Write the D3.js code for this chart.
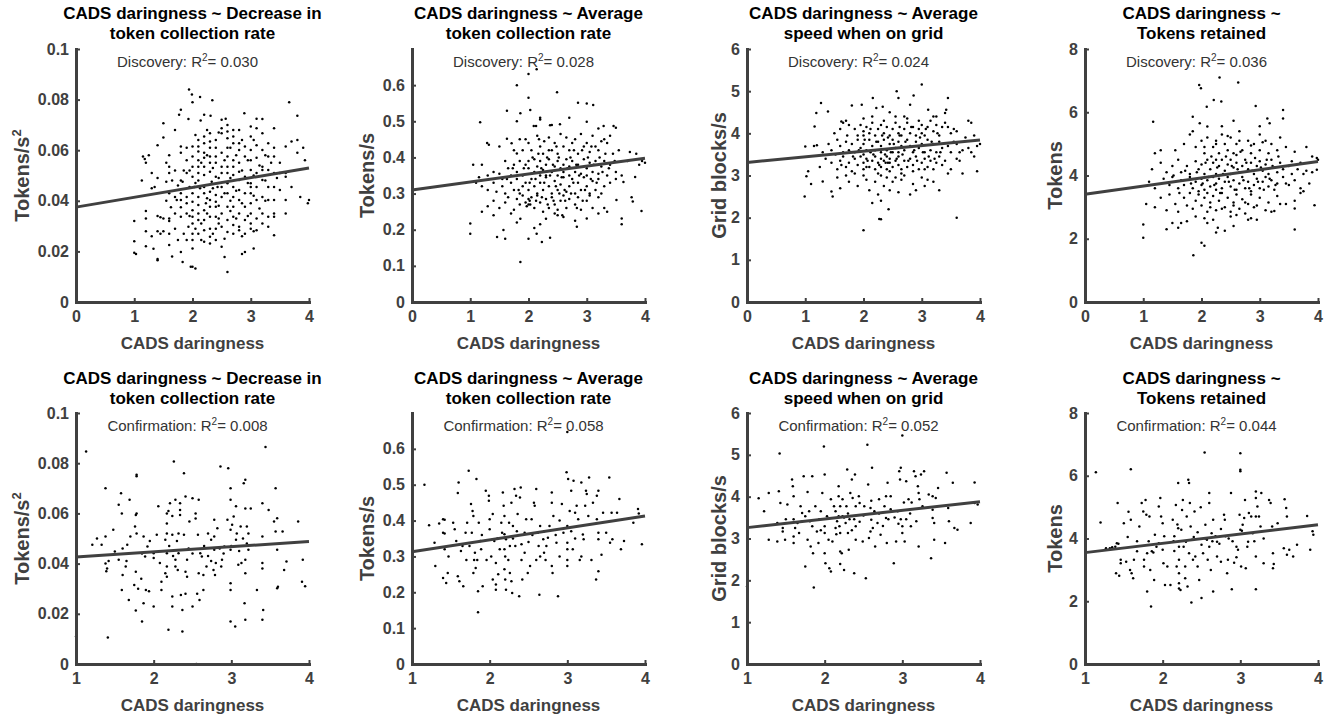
<!DOCTYPE html>
<html>
<head>
<meta charset="utf-8">
<script src="https://cdn.jsdelivr.net/npm/d3@7"></script>
<style>
  body { margin: 0; background: #fff; }
  svg { font-family: "Liberation Sans", Arial, Helvetica, sans-serif; }
  .axis path.domain { stroke: #404040; stroke-width: 3; stroke-linecap: square; }
  .axis .tick line { stroke: #404040; stroke-width: 2; }
  .axis text { fill: #404040; font-size: 16px; font-weight: bold; font-family: "Liberation Sans", Arial, sans-serif; }
  .title { font-size: 17px; font-weight: bold; fill: #000; }
  .xlabel { font-size: 17px; font-weight: bold; fill: #404040; }
  .ylabel { font-size: 20px; font-weight: bold; fill: #404040; }
  .note { font-size: 15px; fill: #333; }
</style>
</head>
<body>
<div id="chart"></div>
<script>
// ---- data: [CADS daringness, outcome] ----
const discDecrease = [
  [1.0,.032],[1.0,.024],[1.0,.0195],[1.03,.019],
  [1.13,.048],[1.15,.0575],[1.18,.0565],[1.2,.055],[1.2,.036],[1.2,.033],[1.2,.028],[1.2,.022],[1.25,.058],
  [1.3,.051],[1.3,.045],[1.35,.0455],[1.3,.026],[1.33,.021],
  [1.4,.062],[1.4,.049],[1.4,.034],[1.45,.0335],[1.4,.028],[1.45,.027],[1.4,.017],[1.4,.0165],
  [1.5,.0707],[1.5,.065],[1.55,.055],[1.5,.033],[1.55,.0475],[1.5,.028],
  [1.6,.058],[1.6,.0535],[1.6,.051],[1.6,.043],[1.63,.0375],[1.6,.033],[1.6,.032],[1.6,.027],[1.6,.0225],[1.65,.018],
  [1.7,.068],[1.7,.052],[1.7,.0415],[1.73,.0403],[1.7,.035],[1.7,.029],[1.75,.0245],
  [1.8,.076],[1.77,.074],[1.8,.0615],[1.8,.059],[1.8,.048],[1.83,.0475],[1.8,.043],[1.8,.0403],[1.8,.0375],[1.8,.0337],[1.85,.027],[1.8,.0198],[1.83,.0158],
  [1.94,.084],[1.93,.0723],[1.9,.061],[1.9,.056],[1.9,.051],[1.95,.0455],[1.9,.0415],[1.9,.039],[1.9,.035],[1.93,.0297],[1.9,.0245],[1.97,.0139],
  [1.99,.082],[2.0,.079],[2.0,.0615],[2.0,.0575],[2.0,.0535],[2.0,.0495],[2.03,.0455],[2.0,.043],[2.0,.0396],[2.0,.0363],[2.0,.0337],[2.0,.031],[2.0,.027],[2.0,.0245],[2.0,.0211],[2.0,.0139],[2.05,.0132],
  [2.13,.081],[2.14,.0717],[2.1,.064],[2.1,.0615],[2.1,.0595],[2.1,.056],[2.1,.0535],[2.1,.051],[2.1,.048],[2.13,.045],[2.1,.0415],[2.1,.0383],[2.1,.035],[2.1,.0324],[2.1,.027],[2.15,.0245],
  [2.2,.074],[2.2,.0654],[2.2,.0627],[2.2,.059],[2.2,.057],[2.2,.0535],[2.2,.0502],[2.2,.0455],[2.2,.043],[2.23,.039],[2.2,.0363],[2.2,.0324],[2.2,.0284],[2.2,.0238],
  [2.34,.0797],[2.31,.0736],[2.3,.0667],[2.3,.0634],[2.3,.061],[2.3,.0575],[2.3,.055],[2.3,.0515],[2.33,.0475],[2.3,.0436],[2.3,.0403],[2.3,.0376],[2.3,.0337],[2.3,.029],[2.3,.0258],[2.3,.0231],
  [2.4,.064],[2.4,.061],[2.4,.0575],[2.4,.055],[2.4,.0495],[2.43,.0455],[2.4,.0423],[2.4,.0396],[2.4,.0376],[2.4,.0337],[2.45,.033],[2.4,.029],[2.4,.0245],
  [2.5,.072],[2.5,.0687],[2.5,.0667],[2.5,.059],[2.5,.0535],[2.5,.051],[2.5,.0455],[2.5,.0415],[2.5,.035],[2.5,.0297],[2.5,.0218],[2.55,.0178],
  [2.57,.0724],[2.6,.07],[2.6,.0674],[2.6,.0647],[2.6,.061],[2.6,.0575],[2.6,.0535],[2.6,.051],[2.6,.0469],[2.6,.043],[2.6,.0376],[2.6,.0324],[2.6,.0277],[2.6,.0119],
  [2.7,.068],[2.7,.0654],[2.7,.0627],[2.7,.056],[2.7,.0535],[2.7,.0502],[2.7,.0455],[2.7,.0415],[2.7,.0376],[2.7,.0337],[2.7,.0304],[2.7,.027],
  [2.8,.068],[2.8,.0627],[2.8,.0601],[2.8,.055],[2.8,.0515],[2.8,.0482],[2.8,.0443],[2.8,.0403],[2.8,.035],[2.8,.0297],[2.8,.0284],[2.85,.019],
  [2.89,.0746],[2.9,.0615],[2.9,.0575],[2.9,.0495],[2.9,.043],[2.9,.0376],[2.9,.0324],[2.9,.027],[2.9,.0198],
  [3.0,.0694],[3.0,.0654],[3.0,.0601],[3.0,.056],[3.0,.0522],[3.0,.0469],[3.0,.0455],[3.0,.043],[3.0,.039],[3.0,.035],[3.0,.031],[3.0,.029],
  [3.1,.0724],[3.1,.0687],[3.1,.062],[3.1,.057],[3.1,.051],[3.1,.0455],[3.1,.0403],[3.1,.033],[3.1,.0284],[3.05,.0211],
  [3.2,.0723],[3.2,.0667],[3.2,.0601],[3.2,.0535],[3.2,.0522],[3.2,.0482],[3.2,.0415],[3.2,.035],[3.2,.031],
  [3.3,.0627],[3.3,.0575],[3.3,.0522],[3.3,.0455],[3.3,.0403],[3.3,.0337],[3.3,.0297],
  [3.4,.0687],[3.4,.061],[3.4,.0575],[3.4,.051],[3.4,.0455],[3.4,.0403],[3.4,.035],[3.4,.0337],[3.4,.0264],
  [3.5,.055],[3.5,.051],[3.5,.0443],
  [3.6,.0615],[3.6,.051],[3.6,.0495],[3.6,.0403],[3.6,.035],
  [3.66,.079],[3.7,.0634],[3.7,.0455],
  [3.8,.0736],[3.8,.064],[3.8,.059],[3.85,.0415],
  [3.9,.061],[3.93,.056],[4.0,.0403],[3.98,.039],
  [1.95,.052],[2.05,.047],[2.15,.055],[2.25,.041],[2.25,.058],[2.35,.045],[2.35,.053],[2.45,.049],[2.45,.038],[2.55,.056],[2.55,.043],[2.65,.049],[2.65,.036],[2.75,.058],[2.75,.044],[2.85,.052],[2.85,.039],[2.95,.047],[2.95,.056],[3.05,.05],[3.05,.042],[3.15,.054],[3.15,.037],[3.25,.048],[3.35,.055],
  [1.75,.046],[1.85,.052],[1.95,.034],[2.05,.029],[2.15,.031],[2.25,.035],[2.35,.027],[2.45,.031],[2.55,.025],[2.65,.04],[2.75,.033],[2.85,.026],[2.95,.034],[3.05,.028],[3.25,.04],[1.65,.048],[1.55,.04],[2.05,.066],[2.25,.068],[2.45,.067],[2.65,.061],[2.85,.064],[3.05,.064],[3.25,.058],[3.45,.049]
];

const discAverage = [
  [2.0,.631],[2.14,.644],[1.8,.60],[2.0,.565],[2.49,.58],[2.03,.531],[1.63,.529],[1.86,.522],[2.2,.51],[2.85,.551],[3.0,.549],[3.11,.545],[2.7,.51],[1.17,.497],[2.09,.487],[2.13,.487],[3.0,.499],[3.29,.487],[3.46,.487],[3.5,.482],[2.37,.489],[2.54,.492],[1.8,.50],[2.2,.505],[2.4,.49],[3.2,.48],
  [1.29,.44],[1.32,.435],[1.63,.452],[1.71,.439],[1.8,.411],[1.85,.45],[1.95,.45],[2.0,.44],[2.05,.42],[2.15,.46],[2.2,.43],[2.27,.445],[2.35,.455],[2.4,.42],[2.45,.44],[2.5,.41],[2.6,.43],[2.65,.455],[2.7,.42],[2.75,.44],[2.8,.45],[2.85,.41],[2.9,.465],[2.95,.43],[3.0,.44],[3.05,.415],[3.1,.46],[3.15,.43],[3.2,.42],[3.25,.445],[3.3,.45],[3.35,.44],[3.4,.46],[3.45,.41],[3.55,.42],[3.74,.415],[3.85,.41],[1.9,.42],[2.25,.41],[2.55,.465],[2.35,.42],[1.5,.43],[1.75,.42],
  [1.05,.38],[1.2,.38],[1.3,.35],[1.4,.36],[1.5,.355],[1.55,.34],[1.6,.39],[1.65,.37],[1.7,.35],[1.75,.38],[1.8,.36],[1.85,.39],[1.9,.35],[1.95,.38],[2.0,.39],[2.0,.37],[2.05,.355],[2.1,.395],[2.1,.36],[2.15,.375],[2.2,.35],[2.2,.39],[2.25,.365],[2.3,.38],[2.3,.35],[2.35,.395],[2.4,.36],[2.45,.375],[2.5,.39],[2.5,.35],[2.55,.37],[2.6,.38],[2.6,.36],[2.65,.395],[2.7,.35],[2.7,.375],[2.75,.39],[2.8,.36],[2.85,.38],[2.9,.355],[2.95,.395],[3.0,.37],[3.0,.35],[3.05,.385],[3.1,.36],[3.15,.39],[3.2,.355],[3.25,.375],[3.3,.39],[3.35,.35],[3.4,.38],[3.5,.36],[3.6,.35],[3.63,.332],[3.7,.39],[3.83,.346],[3.9,.38],[3.95,.39],[4.0,.385],[1.1,.33],[1.15,.345],
  [1.2,.32],[1.3,.31],[1.4,.33],[1.45,.305],[1.55,.32],[1.6,.3],[1.7,.33],[1.75,.31],[1.8,.34],[1.85,.3],[1.9,.32],[1.95,.33],[2.0,.31],[2.05,.34],[2.1,.32],[2.15,.3],[2.2,.33],[2.25,.31],[2.3,.345],[2.35,.32],[2.4,.3],[2.45,.335],[2.5,.31],[2.55,.325],[2.6,.345],[2.65,.305],[2.7,.32],[2.75,.34],[2.8,.3],[2.85,.33],[2.9,.31],[2.95,.345],[3.0,.32],[3.05,.3],[3.1,.335],[3.15,.31],[3.2,.34],[3.3,.32],[3.4,.33],[3.5,.34],[3.25,.3],
  [1.2,.25],[1.3,.265],[1.4,.28],[1.5,.26],[1.6,.275],[1.65,.29],[1.75,.255],[1.8,.285],[1.85,.27],[1.9,.295],[1.95,.275],[1.97,.265],[2.0,.285],[2.0,.27],[2.02,.28],[2.05,.29],[2.1,.26],[2.15,.295],[2.2,.275],[2.25,.25],[2.3,.285],[2.35,.26],[2.4,.29],[2.45,.27],[2.5,.255],[2.55,.28],[2.6,.295],[2.65,.26],[2.7,.285],[2.8,.27],[2.85,.29],[2.9,.255],[3.0,.28],[3.05,.295],[3.1,.26],[3.2,.29],[3.3,.26],[3.35,.25],[3.51,.282],[3.77,.29],[3.79,.278],
  [1.0,.217],[1.0,.189],[1.4,.24],[1.57,.199],[1.6,.175],[1.46,.18],[1.8,.22],[1.86,.23],[2.0,.175],[2.14,.189],[2.23,.166],[2.37,.178],[2.2,.215],[2.3,.23],[2.45,.245],[2.6,.235],[1.86,.111],[2.83,.208],[2.8,.225],[3.0,.231],[3.2,.245],[3.6,.231],[3.6,.215],[3.94,.252],[1.7,.245],[2.1,.205],[2.5,.24],
  [1.92,.37],[2.02,.33],[2.07,.4],[2.12,.34],[2.17,.41],[2.22,.37],[2.27,.33],[2.32,.4],[2.37,.35],[2.42,.38],[2.47,.32],[2.52,.4],[2.57,.345],[2.62,.31],[2.67,.37],[2.72,.4],[2.77,.33],[2.82,.38],[2.87,.35],[2.92,.42],[2.97,.31],[3.02,.4],[3.07,.34],[3.12,.38],[3.17,.33],[3.22,.4],[3.27,.36],[3.32,.41],
  [2.03,.27],[2.13,.28],[2.23,.29],[2.33,.27],[2.43,.28],[2.53,.3],[2.63,.28],[2.73,.3],[2.83,.26],[2.93,.28],[1.83,.31],[1.73,.37],[1.63,.34],[2.18,.45],[2.48,.43],[2.78,.42],[3.08,.43],[3.38,.37],[3.48,.39],[2.58,.24]
];

const discSpeed = [
  [1.27,4.72],[1.39,4.52],[1.19,4.48],[1.8,4.66],[1.97,4.68],[2.16,4.84],[2.22,4.6],[2.33,4.63],[2.57,5.0],[2.6,4.84],[2.86,4.9],[3.0,5.16],[2.8,4.68],[3.11,4.56],[3.42,4.56],[3.45,4.84],[2.45,4.5],[2.7,4.4],[3.2,4.4],[3.4,4.48],[3.8,4.3],[2.0,4.35],[1.7,4.3],[1.62,4.28],[1.65,4.25],
  [1.16,4.16],[1.5,4.0],[1.6,4.1],[1.75,4.2],[1.85,4.1],[1.9,3.95],[1.95,4.2],[2.0,4.05],[2.0,3.95],[2.05,4.15],[2.1,4.0],[2.15,4.25],[2.2,3.95],[2.25,4.1],[2.3,4.2],[2.35,4.0],[2.4,4.15],[2.45,3.95],[2.5,4.1],[2.55,4.25],[2.6,4.0],[2.62,4.15],[2.65,3.95],[2.7,4.1],[2.75,4.25],[2.8,4.0],[2.85,4.15],[2.9,3.95],[2.95,4.1],[3.0,4.2],[3.0,4.0],[3.05,3.95],[3.1,4.15],[3.15,4.3],[3.2,4.05],[3.25,4.2],[3.3,3.95],[3.35,4.15],[3.4,4.25],[3.45,4.15],[3.5,4.0],[3.55,4.1],[3.6,4.05],[3.85,4.25],[3.9,3.95],[4.0,3.75],
  [1.0,3.69],[1.15,3.7],[1.2,3.72],[1.3,3.55],[1.4,3.75],[1.45,3.6],[1.55,3.85],[1.6,3.7],[1.65,3.55],[1.7,3.8],[1.75,3.6],[1.8,3.75],[1.85,3.55],[1.9,3.85],[1.95,3.65],[2.0,3.5],[2.0,3.75],[2.05,3.6],[2.1,3.85],[2.12,3.55],[2.15,3.7],[2.2,3.6],[2.25,3.8],[2.3,3.55],[2.3,3.7],[2.35,3.85],[2.4,3.6],[2.45,3.75],[2.5,3.55],[2.5,3.85],[2.55,3.65],[2.6,3.8],[2.6,3.55],[2.65,3.7],[2.7,3.6],[2.75,3.85],[2.8,3.7],[2.85,3.55],[2.9,3.8],[2.95,3.65],[3.0,3.75],[3.05,3.55],[3.1,3.85],[3.15,3.6],[3.2,3.75],[3.25,3.55],[3.3,3.8],[3.35,3.65],[3.45,3.7],[3.5,3.55],[3.6,3.75],[3.7,3.6],[3.8,3.65],[3.85,3.55],[3.95,3.7],
  [1.05,3.1],[1.25,3.2],[1.35,3.4],[1.45,3.3],[1.55,3.15],[1.6,3.35],[1.65,3.45],[1.7,3.2],[1.75,3.3],[1.8,3.1],[1.85,3.4],[1.9,3.25],[1.95,3.45],[2.0,3.3],[2.0,3.15],[2.05,3.4],[2.1,3.2],[2.15,3.35],[2.2,3.45],[2.2,3.15],[2.25,3.3],[2.3,3.4],[2.3,3.2],[2.35,3.35],[2.38,3.3],[2.4,3.45],[2.4,3.15],[2.45,3.3],[2.45,3.4],[2.5,3.2],[2.55,3.35],[2.6,3.25],[2.6,3.45],[2.65,3.15],[2.7,3.35],[2.75,3.2],[2.8,3.4],[2.85,3.25],[2.9,3.45],[2.95,3.15],[3.0,3.3],[3.05,3.4],[3.1,3.2],[3.15,3.35],[3.2,3.15],[3.25,3.3],[3.3,3.45],[3.35,3.25],[3.4,3.35],[3.5,3.15],[3.6,3.4],[3.65,3.35],[3.9,3.45],[3.95,3.1],
  [0.99,2.5],[1.02,2.98],[1.1,2.8],[1.3,2.86],[1.45,2.62],[1.47,2.5],[1.55,2.95],[1.6,2.7],[1.7,3.0],[1.75,2.85],[1.85,3.05],[1.9,2.75],[2.0,3.0],[2.05,2.9],[2.1,2.65],[2.15,2.35],[2.2,2.85],[2.25,2.55],[2.3,3.0],[2.35,2.75],[2.4,2.95],[2.45,2.65],[2.5,2.85],[2.55,2.95],[2.6,2.6],[2.65,2.9],[2.7,3.0],[2.8,2.55],[2.85,2.8],[2.9,2.65],[3.0,2.95],[3.05,2.75],[3.1,2.9],[3.2,2.85],[3.3,2.65],[3.45,3.05],[3.7,3.05],
  [2.0,1.7],[2.27,1.97],[2.3,1.96],[2.43,2.2],[3.6,2.0],[2.3,2.4],
  [1.92,3.6],[2.02,3.85],[2.07,3.35],[2.12,4.1],[2.17,3.5],[2.22,3.8],[2.27,3.25],[2.32,3.95],[2.37,3.5],[2.42,3.3],[2.42,3.9],[2.47,3.55],[2.52,3.75],[2.57,3.4],[2.62,3.95],[2.67,3.5],[2.72,3.8],[2.77,3.35],[2.82,4.15],[2.87,3.6],[2.92,3.35],[2.97,3.9],[3.02,3.55],[3.07,4.1],[3.12,3.45],[3.17,3.8],[3.22,3.4],[3.27,4.0],[3.32,3.55],
  [1.82,3.45],[1.72,3.95],[1.62,3.25],[1.52,3.5],[2.05,3.2],[2.25,3.05],[2.45,3.1],[2.65,3.05],[2.85,3.1],[3.05,3.15],[2.15,4.4],[2.35,4.3],[2.55,4.4],[2.75,4.35],[2.95,4.3],[3.25,4.4],[3.55,3.8],[3.65,3.55],[3.75,3.9]
];

const discTokens = [
  [2.31,7.1],[1.96,6.86],[1.99,6.76],[2.63,6.94],[2.21,6.39],[2.34,6.34],[2.09,6.17],[2.93,6.2],[3.4,6.07],[3.4,5.8],[1.17,5.7],[1.85,5.86],[1.97,5.65],[2.1,5.55],[2.35,5.56],[2.55,5.73],[3.0,5.56],[3.13,5.8],[3.17,5.65],[1.0,2.45],[1.0,2.03],[1.86,1.48],[2.0,1.87],[2.05,1.78],[3.6,2.29],[3.94,3.06],[3.6,2.96],[3.98,4.18],[3.98,4.55],
  [1.2,4.7],[1.3,4.8],[1.55,4.8],[1.7,5.0],[1.8,5.3],[1.85,5.4],[1.9,4.9],[2.0,5.1],[2.05,4.7],[2.1,5.2],[2.2,4.9],[2.25,5.1],[2.3,4.7],[2.4,5.0],[2.45,4.8],[2.5,5.2],[2.55,4.7],[2.6,5.0],[2.65,5.4],[2.7,4.8],[2.8,5.1],[2.85,4.7],[2.9,5.0],[3.0,5.3],[3.0,4.8],[3.1,5.1],[3.15,4.7],[3.2,5.0],[3.3,4.8],[3.35,5.2],[3.45,4.9],[3.6,4.75],[3.8,4.9],[3.9,4.6],[2.35,5.3],[2.6,4.65],
  [1.15,4.2],[1.3,4.4],[1.4,4.1],[1.5,4.3],[1.6,4.5],[1.65,4.1],[1.75,4.3],[1.8,4.05],[1.9,4.45],[1.95,4.2],[2.0,4.35],[2.05,4.05],[2.1,4.5],[2.15,4.2],[2.2,4.4],[2.25,4.05],[2.3,4.3],[2.35,4.5],[2.4,4.15],[2.45,4.35],[2.5,4.05],[2.5,4.5],[2.55,4.25],[2.6,4.4],[2.65,4.1],[2.7,4.3],[2.75,4.5],[2.8,4.2],[2.85,4.4],[2.9,4.05],[2.95,4.3],[3.0,4.45],[3.05,4.15],[3.1,4.35],[3.15,4.05],[3.2,4.5],[3.25,4.25],[3.3,4.1],[3.35,4.4],[3.4,4.2],[3.5,4.3],[3.55,4.05],[3.65,4.2],[3.7,4.4],[3.8,4.15],[3.9,4.1],[4.0,4.5],
  [1.1,3.8],[1.2,3.6],[1.35,3.9],[1.45,3.7],[1.5,3.95],[1.6,3.6],[1.65,3.85],[1.7,3.7],[1.8,3.95],[1.85,3.6],[1.9,3.8],[1.95,3.5],[2.0,3.7],[2.0,3.9],[2.05,3.55],[2.1,3.85],[2.15,3.65],[2.2,3.95],[2.25,3.55],[2.25,3.75],[2.3,3.9],[2.35,3.6],[2.4,3.8],[2.45,3.95],[2.5,3.65],[2.55,3.85],[2.6,3.55],[2.65,3.75],[2.7,3.95],[2.75,3.6],[2.8,3.8],[2.85,3.5],[2.9,3.7],[2.95,3.9],[3.0,3.6],[3.05,3.8],[3.1,3.95],[3.15,3.65],[3.2,3.85],[3.25,3.55],[3.3,3.75],[3.4,3.95],[3.5,3.7],[3.6,3.85],[3.7,3.6],[3.75,3.5],[3.85,3.75],
  [1.05,3.1],[1.2,3.0],[1.3,3.3],[1.4,2.9],[1.45,3.4],[1.55,3.1],[1.6,2.85],[1.7,3.3],[1.75,3.05],[1.8,3.45],[1.85,2.95],[1.9,3.2],[1.95,3.4],[2.0,3.05],[2.05,3.3],[2.1,2.85],[2.1,3.45],[2.15,3.15],[2.2,3.35],[2.25,2.9],[2.3,3.2],[2.35,3.45],[2.4,3.0],[2.45,3.3],[2.5,2.85],[2.55,3.15],[2.6,3.4],[2.65,2.95],[2.7,3.25],[2.75,2.8],[2.8,3.1],[2.85,3.4],[2.9,3.0],[3.0,3.3],[3.1,2.9],[3.15,3.15],[3.2,2.85],[3.25,2.88],[3.3,3.35],[3.45,3.1],[3.6,3.2],[3.7,3.45],
  [1.4,2.3],[1.5,2.5],[1.6,2.35],[1.65,2.5],[1.9,2.7],[2.1,2.5],[2.2,2.6],[2.25,2.2],[2.28,2.35],[2.4,2.25],[2.5,2.7],[2.55,2.4],[2.6,2.75],[2.8,2.6],[2.85,2.65],[2.95,2.6],[2.05,2.65],[1.75,2.55],
  [1.92,4.1],[2.02,3.75],[2.07,4.4],[2.12,3.95],[2.17,4.6],[2.22,3.7],[2.27,4.25],[2.32,3.45],[2.37,4.05],[2.42,4.6],[2.47,3.8],[2.52,4.3],[2.57,3.55],[2.62,4.2],[2.67,4.75],[2.72,3.85],[2.77,4.4],[2.82,3.6],[2.87,4.15],[2.92,4.55],[2.97,3.8],[3.02,4.25],[3.07,3.55],[3.12,4.5],[3.17,3.9],[3.22,4.3],[3.27,3.7],[3.32,4.6],
  [1.82,3.75],[1.72,4.15],[1.62,3.45],[1.52,4.0],[2.05,4.9],[2.25,5.0],[2.45,5.25],[2.65,5.1],[2.85,4.95],[3.05,5.05],[2.15,3.0],[2.35,2.95],[2.55,3.05],[2.75,3.15],[2.95,3.05],[3.35,3.1],[3.45,3.75],[3.55,4.45],[3.75,4.05],[2.25,4.5]
];

const confDecrease = [
  [1.13,.0847],[1.0,.011],[1.38,.070],[1.41,.0106],[1.21,.0475],[1.27,.050],[1.33,.0475],[1.38,.0508],[1.38,.040],[1.4,.038],[1.39,.037],[1.42,.041],[1.48,.0535],[1.5,.0448],[1.55,.0415],[1.55,.0634],[1.58,.068],[1.59,.060],[1.59,.0295],[1.6,.0355],[1.64,.0388],[1.66,.0475],[1.68,.0255],[1.69,.0654],[1.7,.0508],[1.75,.0315],[1.76,.0548],[1.77,.0594],[1.78,.060],[1.78,.0754],[1.78,.0748],[1.78,.052],[1.77,.0368],[1.8,.030],[1.77,.0213],[1.84,.034],[1.85,.0169],[1.87,.0242],[1.87,.0508],[1.9,.0295],[1.89,.0428],[1.92,.0468],[1.94,.029],
  [2.0,.0229],[2.0,.0441],[2.0,.0422],[2.04,.0515],[2.06,.0628],[2.08,.0402],[2.1,.0295],[2.1,.0328],[2.15,.0362],[2.15,.0495],[2.17,.060],[2.19,.061],[2.17,.056],[2.17,.052],[2.17,.0441],[2.17,.0388],[2.17,.0348],[2.19,.0136],[2.21,.064],[2.24,.059],[2.24,.0515],[2.24,.0269],[2.24,.0229],[2.26,.0807],[2.28,.0654],[2.28,.0415],[2.28,.0388],[2.31,.0375],[2.32,.0441],[2.32,.052],[2.34,.064],[2.34,.0614],[2.34,.0594],[2.35,.0275],[2.37,.0215],[2.37,.0129],[2.39,.076],[2.39,.0515],[2.41,.0667],[2.41,.0368],[2.41,.028],[2.43,.0415],[2.43,.0348],[2.46,.0568],[2.5,.0229],[2.5,.066],[2.54,.060],[2.54,.058],[2.56,.028],[2.57,.0515],[2.58,.0654],[2.58,.0362],[2.59,.0255],[2.6,.0441],[2.62,.0428],[2.64,.0355],[2.64,.0295],[2.68,.0388],[2.7,.052],[2.74,.0495],[2.74,.041],[2.78,.0455],[2.78,.0575],[2.78,.0508],[2.77,.0375],[2.79,.0355],[2.8,.0402],[2.82,.0541],[2.87,.0388],[2.86,.0787],[2.88,.0415],[2.91,.0468],[2.96,.078],[2.95,.0575],
  [2.99,.070],[2.99,.0654],[2.99,.0535],[2.99,.0455],[2.99,.0322],[2.99,.0295],[2.99,.0169],[3.01,.0555],[3.03,.0588],[3.05,.0149],[3.06,.0628],[3.06,.0495],[3.07,.052],[3.09,.0395],[3.12,.0548],[3.13,.0402],[3.16,.072],[3.18,.0734],[3.18,.062],[3.18,.0415],[3.17,.0242],[3.18,.0362],[3.18,.0176],[3.2,.048],[3.2,.0548],[3.22,.052],[3.22,.0455],[3.25,.062],[3.33,.0295],[3.4,.064],[3.4,.0508],[3.4,.0402],[3.4,.038],[3.41,.0215],[3.4,.0176],[3.44,.0865],[3.48,.0614],[3.55,.0568],[3.57,.070],[3.57,.0528],[3.59,.0581],[3.59,.0455],[3.59,.0302],[3.6,.0308],[3.66,.0528],[3.68,.0375],[3.71,.0408],[3.86,.0568],[3.92,.0415],[3.91,.0328],[3.95,.031],
  [2.2,.047],[2.25,.043],[2.3,.049],[2.45,.046],[2.5,.044],[2.65,.047],[2.7,.043],[2.85,.046],[2.9,.044],[3.0,.047],[3.1,.045],[3.15,.05],[1.6,.046],[1.65,.041],[1.85,.044],[1.95,.049],
  [2.0,0],[2.55,0],[3.0,0]
];

const confAverage = [
  [1.16,.5],[1.22,.387],[1.29,.338],[1.3,.273],[1.35,.392],[1.4,.404],[1.42,.402],[1.4,.366],[1.42,.364],[1.42,.32],[1.4,.24],[1.44,.226],[1.46,.254],[1.47,.30],[1.53,.394],[1.55,.376],[1.57,.343],[1.59,.477],[1.6,.506],[1.59,.245],[1.61,.231],[1.63,.315],[1.65,.329],[1.66,.217],[1.69,.366],[1.7,.29],[1.71,.394],[1.73,.539],[1.74,.329],[1.76,.446],[1.77,.366],[1.78,.427],[1.79,.413],[1.79,.254],[1.8,.29],[1.81,.31],[1.82,.268],[1.83,.516],[1.84,.29],[1.85,.203],[1.85,.144],[1.86,.394],[1.88,.343],[1.89,.32],[1.91,.217],[1.95,.483],[1.96,.29],[1.99,.469],[1.99,.455],
  [2.0,.404],[2.0,.376],[2.02,.30],[2.04,.236],[2.04,.418],[2.06,.343],[2.08,.207],[2.08,.282],[2.08,.222],[2.11,.25],[2.13,.32],[2.15,.394],[2.16,.366],[2.17,.478],[2.18,.441],[2.19,.413],[2.19,.362],[2.19,.32],[2.19,.264],[2.2,.236],[2.21,.207],[2.21,.348],[2.24,.29],[2.25,.394],[2.26,.329],[2.26,.254],[2.28,.45],[2.28,.231],[2.29,.198],[2.3,.385],[2.32,.488],[2.33,.329],[2.34,.469],[2.36,.418],[2.38,.189],[2.39,.464],[2.4,.492],[2.41,.334],[2.41,.29],[2.42,.236],[2.45,.366],[2.47,.404],[2.49,.254],[2.52,.273],[2.54,.404],[2.57,.45],[2.58,.441],[2.6,.29],[2.6,.488],[2.62,.366],[2.63,.329],[2.64,.193],[2.65,.385],[2.69,.348],[2.7,.31],[2.72,.29],[2.73,.329],[2.75,.352],[2.77,.385],[2.8,.478],[2.8,.45],[2.8,.273],[2.81,.254],[2.82,.413],[2.86,.338],[2.88,.189],[2.9,.30],[2.93,.446],[2.95,.366],[2.99,.535],
  [3.0,.647],[3.0,.385],[3.0,.338],[3.0,.32],[3.0,.29],[3.0,.273],[3.01,.516],[3.03,.427],[3.05,.483],[3.07,.32],[3.08,.511],[3.1,.422],[3.12,.441],[3.14,.404],[3.16,.29],[3.18,.30],[3.18,.506],[3.2,.361],[3.21,.348],[3.23,.441],[3.24,.483],[3.25,.474],[3.27,.413],[3.28,.52],[3.31,.29],[3.33,.45],[3.38,.404],[3.4,.366],[3.4,.348],[3.4,.483],[3.38,.469],[3.37,.236],[3.4,.259],[3.44,.305],[3.46,.422],[3.5,.366],[3.54,.52],[3.55,.338],[3.57,.422],[3.58,.348],[3.64,.422],[3.67,.46],[3.69,.32],[3.73,.343],[3.85,.394],[3.91,.432],[3.92,.42],[3.96,.334],
  [2.3,.35],[2.35,.37],[2.5,.34],[2.55,.36],[2.65,.3],[2.7,.37],[2.85,.36],[2.9,.4],[3.05,.37],[3.1,.35],[2.2,.3],[2.45,.31],[1.9,.36],[2.1,.35],
  [2.0,0],[3.0,0]
];

const confSpeed = [
  [1.15,3.96],[1.22,3.65],[1.28,4.09],[1.28,2.97],[1.39,3.37],[1.39,2.93],[1.41,4.13],[1.42,5.03],[1.43,3.85],[1.46,3.25],[1.46,3.17],[1.49,2.97],[1.5,3.46],[1.52,3.81],[1.58,4.41],[1.59,4.25],[1.6,4.01],[1.6,3.46],[1.6,3.05],[1.6,2.89],[1.62,3.25],[1.65,3.37],[1.67,3.13],[1.69,3.77],[1.71,3.61],[1.73,4.49],[1.75,3.53],[1.75,2.33],[1.78,4.11],[1.78,2.97],[1.8,3.65],[1.81,3.41],[1.82,2.81],[1.84,4.49],[1.84,3.29],[1.85,2.65],[1.86,1.83],[1.88,3.77],[1.9,3.17],[1.92,2.89],[1.93,3.46],[1.95,3.65],[1.97,4.09],[1.99,5.2],
  [2.0,4.53],[2.0,3.29],[2.0,3.13],[2.0,2.65],[2.01,2.41],[2.03,3.53],[2.05,2.97],[2.06,2.29],[2.08,2.21],[2.08,3.94],[2.1,2.93],[2.12,3.77],[2.14,3.65],[2.14,3.25],[2.16,3.41],[2.18,4.01],[2.18,4.25],[2.18,3.53],[2.19,3.29],[2.2,3.77],[2.2,3.13],[2.2,2.69],[2.2,2.39],[2.22,2.65],[2.23,3.53],[2.23,3.94],[2.25,2.25],[2.27,3.37],[2.28,3.77],[2.29,4.65],[2.3,3.13],[2.31,2.73],[2.32,3.46],[2.33,4.09],[2.35,4.41],[2.36,3.97],[2.38,2.17],[2.38,3.46],[2.39,4.53],[2.4,3.77],[2.4,3.29],[2.4,2.97],[2.44,4.01],[2.49,2.93],[2.51,3.77],[2.53,2.05],[2.55,5.24],[2.56,4.29],[2.57,3.01],[2.59,3.73],[2.59,3.17],[2.61,4.69],[2.62,3.25],[2.64,3.65],[2.65,2.81],[2.68,3.37],[2.7,3.94],[2.72,3.09],[2.77,3.77],[2.79,4.01],[2.79,3.49],[2.8,2.89],[2.81,4.33],[2.82,3.46],[2.85,4.01],[2.89,2.41],[2.92,2.93],[2.94,3.65],[2.96,4.61],[2.97,4.41],[2.98,4.69],[2.98,3.46],
  [3.0,5.46],[3.0,3.29],[3.0,3.13],[3.02,3.86],[3.03,2.93],[3.05,3.46],[3.05,4.37],[3.08,3.94],[3.11,3.29],[3.12,3.86],[3.15,4.61],[3.17,4.49],[3.18,3.41],[3.2,4.25],[3.21,4.09],[3.21,2.81],[3.22,3.94],[3.24,4.53],[3.26,3.77],[3.28,4.61],[3.34,4.05],[3.37,2.53],[3.39,4.01],[3.39,3.69],[3.39,3.49],[3.41,2.97],[3.41,3.37],[3.43,3.97],[3.46,4.21],[3.55,2.89],[3.57,4.57],[3.59,3.73],[3.6,3.41],[3.65,4.33],[3.67,3.25],[3.71,3.21],[3.88,3.37],[3.93,4.34],[3.93,3.85],[3.97,3.81],
  [2.25,3.5],[2.3,3.6],[2.45,3.4],[2.5,3.55],[2.6,3.45],[2.7,3.6],[2.75,3.3],[2.85,3.7],[2.9,3.5],[3.1,3.6],[2.15,3.1],[2.35,3.2],[1.7,3.4],[1.95,3.2],[2.6,3.9],[2.45,3.85],[2.95,3.35],
  [2.0,0],[3.0,0],[1.0,1.85]
];

const confTokens = [
  [1.14,6.11],[1.2,4.51],[1.27,3.69],[1.32,3.69],[1.35,3.72],[1.39,3.74],[1.4,2.89],[1.41,3.85],[1.42,5.13],[1.43,3.83],[1.44,2.81],[1.46,3.32],[1.46,3.21],[1.5,4.49],[1.53,3.26],[1.55,4.05],[1.56,4.85],[1.58,3.0],[1.59,6.21],[1.59,4.6],[1.6,2.89],[1.62,2.73],[1.63,3.32],[1.67,3.59],[1.67,3.91],[1.7,4.38],[1.73,5.13],[1.75,4.86],[1.76,3.32],[1.76,3.11],[1.78,5.23],[1.79,4.76],[1.8,3.53],[1.8,2.31],[1.82,3.91],[1.83,4.7],[1.84,3.0],[1.85,1.83],[1.86,3.59],[1.88,3.55],[1.89,2.68],[1.9,4.12],[1.92,3.74],[1.95,5.02],[1.97,5.29],[1.98,4.7],
  [2.0,4.49],[2.0,3.64],[2.01,3.21],[2.02,4.07],[2.03,2.52],[2.06,3.11],[2.1,2.52],[2.13,4.6],[2.14,3.91],[2.15,4.07],[2.17,5.07],[2.18,3.11],[2.19,4.45],[2.2,5.77],[2.2,4.33],[2.21,3.74],[2.21,3.32],[2.21,2.89],[2.21,2.57],[2.21,2.41],[2.23,2.36],[2.24,4.28],[2.25,4.91],[2.26,5.23],[2.27,3.74],[2.29,3.11],[2.29,2.73],[2.31,4.7],[2.32,2.47],[2.33,5.87],[2.34,5.77],[2.34,3.53],[2.35,5.13],[2.36,4.38],[2.37,1.96],[2.38,3.96],[2.39,3.32],[2.41,4.86],[2.42,3.43],[2.45,3.11],[2.47,2.68],[2.49,5.0],[2.5,2.1],[2.52,3.53],[2.54,6.74],[2.55,4.44],[2.57,3.96],[2.58,3.32],[2.6,5.13],[2.6,5.45],[2.6,3.74],[2.62,3.0],[2.63,4.17],[2.64,3.91],[2.65,2.31],[2.68,4.07],[2.7,3.43],[2.73,3.83],[2.75,3.26],[2.79,4.76],[2.8,4.6],[2.81,4.07],[2.83,2.89],[2.84,3.32],[2.88,5.45],[2.89,2.38],[2.9,3.91],[2.92,3.23],[2.95,3.74],[2.97,3.64],[2.99,4.76],
  [3.0,6.72],[3.0,6.14],[3.0,6.19],[3.0,4.28],[3.01,3.11],[3.02,4.25],[3.03,4.44],[3.05,4.65],[3.06,5.23],[3.07,3.05],[3.09,3.74],[3.11,4.81],[3.14,4.7],[3.16,4.17],[3.18,3.91],[3.2,5.5],[3.2,5.29],[3.2,4.7],[3.2,3.43],[3.2,2.38],[3.22,5.02],[3.24,4.7],[3.26,4.38],[3.27,5.45],[3.3,3.21],[3.37,5.23],[3.39,5.13],[3.41,4.38],[3.42,3.53],[3.42,3.05],[3.43,3.19],[3.48,4.49],[3.56,3.69],[3.57,5.25],[3.59,4.97],[3.6,4.7],[3.6,3.48],[3.63,3.64],[3.68,3.43],[3.73,3.8],[3.86,4.72],[3.9,3.64],[3.93,4.23],[3.94,4.12],
  [2.3,3.9],[2.45,4.2],[2.5,3.8],[2.55,4.0],[2.7,3.9],[2.75,4.3],[2.85,4.0],[2.95,3.4],[3.1,3.9],[3.3,4.0],[2.15,3.6],[2.4,4.05],[1.95,3.85],[2.65,4.6],
  [2.0,0],[3.0,0]
];

// fitted line values at the two ends of the x range
const fitDiscovery = [[0.0375, 0.053], [0.31, 0.398], [3.31, 3.84], [3.41, 4.44]];
const fitConfirmation = [[0.0426, 0.0488], [0.313, 0.413], [3.26, 3.88], [3.55, 4.44]];
const r2Discovery = ["0.030", "0.028", "0.024", "0.036"];
const r2Confirmation = ["0.008", "0.058", "0.052", "0.044"];

const titles = [
  ["CADS daringness ~ Decrease in", "token collection rate"],
  ["CADS daringness ~ Average", "token collection rate"],
  ["CADS daringness ~ Average", "speed when on grid"],
  ["CADS daringness ~", "Tokens retained"]
];
const yLabels = ["Tokens/s", "Tokens/s", "Grid blocks/s", "Tokens"];
const ySuper = ["2", "", "", ""];
const xLabel = "CADS daringness";

const yDomains = [[0, 0.1], [0, 0.7], [0, 6], [0, 8]];
const yTicks = [
  [0, 0.02, 0.04, 0.06, 0.08, 0.1],
  [0, 0.1, 0.2, 0.3, 0.4, 0.5, 0.6],
  [0, 1, 2, 3, 4, 5, 6],
  [0, 2, 4, 6, 8]
];
const xTicksDiscovery = [0, 1, 2, 3, 4];
const xTicksConfirmation = [1, 2, 3, 4];

// ---- layout ----
var lefts = [76, 412, 747, 1085];
var axisWidth = 233;
var yLabelCenters = [22, 367, 719, 1055];
var rows = [
  { name: "Discovery", sets: [discDecrease, discAverage, discSpeed, discTokens], fits: fitDiscovery, r2: r2Discovery,
    xDomain: [0, 4], xTicks: xTicksDiscovery, top: 49, bottom: 302, title1: -30, title2: -10 },
  { name: "Confirmation", sets: [confDecrease, confAverage, confSpeed, confTokens], fits: fitConfirmation, r2: r2Confirmation,
    xDomain: [1, 4], xTicks: xTicksConfirmation, top: 413, bottom: 664, title1: -29, title2: -9 }
];

var svg = d3.select("#chart").append("svg").attr("width", 1332).attr("height", 720);

rows.forEach(function (row) {
  row.sets.forEach(function (points, c) {
    var left = lefts[c], right = left + axisWidth;
    var cx = (left + right) / 2;
    var x = d3.scaleLinear().domain(row.xDomain).range([left, right]);
    var y = d3.scaleLinear().domain(yDomains[c]).range([row.bottom, row.top]);
    var g = svg.append("g");

    // scatter
    g.selectAll(".dot")
      .data(points)
      .enter()
      .append("circle")
      .attr("class", "dot")
      .attr("cx", function (d) { return x(d[0]); })
      .attr("cy", function (d) { return y(d[1]); })
      .attr("r", 1.25)
      .attr("fill", "#000");

    // regression line
    g.append("line")
      .attr("x1", x(row.xDomain[0]))
      .attr("y1", y(row.fits[c][0]))
      .attr("x2", x(row.xDomain[1]))
      .attr("y2", y(row.fits[c][1]))
      .attr("stroke", "#404040")
      .attr("stroke-width", 3);

    // axes, ticks pointing inward
    var xAxis = d3.axisBottom(x).tickValues(row.xTicks).tickSizeInner(-4).tickSizeOuter(0)
      .tickPadding(9).tickFormat(d3.format("~g"));
    var yAxis = d3.axisLeft(y).tickValues(yTicks[c]).tickSizeInner(-4).tickSizeOuter(0)
      .tickPadding(7).tickFormat(d3.format("~g"));
    g.append("g").attr("class", "axis").attr("transform", "translate(0," + row.bottom + ")").call(xAxis);
    g.append("g").attr("class", "axis").attr("transform", "translate(" + left + ",0)").call(yAxis);

    // titles
    g.append("text").attr("class", "title").attr("x", cx).attr("y", row.top + row.title1)
      .attr("text-anchor", "middle").text(titles[c][0]);
    g.append("text").attr("class", "title").attr("x", cx).attr("y", row.top + row.title2)
      .attr("text-anchor", "middle").text(titles[c][1]);

    // R^2 note
    var note = g.append("text").attr("class", "note").attr("x", cx - 5).attr("y", row.top + 18)
      .attr("text-anchor", "middle");
    note.append("tspan").text(row.name + ": R");
    note.append("tspan").attr("dy", -6).attr("font-size", "10px").text("2");
    note.append("tspan").attr("dy", 6).text("= " + row.r2[c]);

    // axis labels
    g.append("text").attr("class", "xlabel").attr("x", cx).attr("y", row.bottom + 47)
      .attr("text-anchor", "middle").text(xLabel);
    var yl = g.append("text").attr("class", "ylabel")
      .attr("transform", "translate(" + yLabelCenters[c] + "," + (row.top + row.bottom) / 2 + ") rotate(-90)")
      .attr("text-anchor", "middle").attr("dy", "0.35em");
    yl.append("tspan").text(yLabels[c]);
    if (ySuper[c]) {
      yl.append("tspan").attr("dy", -8).attr("font-size", "13px").text(ySuper[c]);
    }
  });
});
</script>
</body>
</html>
